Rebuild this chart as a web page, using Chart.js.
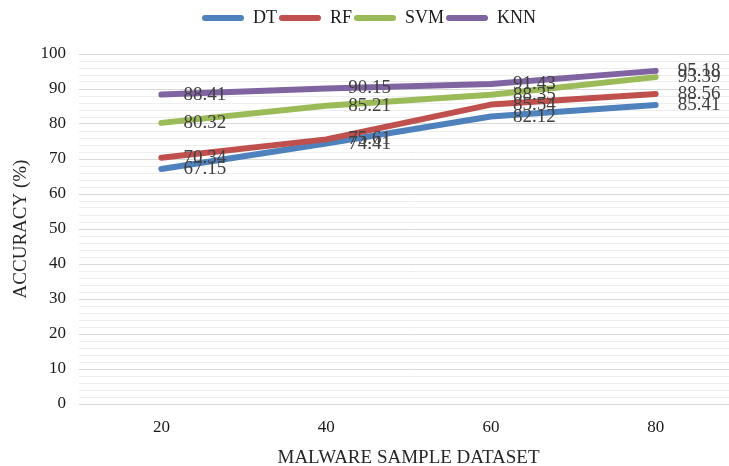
<!DOCTYPE html>
<html>
<head>
<meta charset="utf-8">
<title>Accuracy by malware sample dataset</title>
<script src="https://cdn.jsdelivr.net/npm/chart.js@4/dist/chart.umd.min.js"></script>
<style>
  html, body { margin: 0; padding: 0; background: #fff; overflow: hidden; }
  #wrap { width: 729px; height: 466px; overflow: hidden; position: relative; }
  #c { position: absolute; left: 0; top: 0; }
</style>
</head>
<body>
<div id="wrap"><canvas id="c" width="738" height="466"></canvas></div>
<script>
// Dataset sizes on the x axis
const categories = ['20', '40', '60', '80'];

// Accuracy (%) per classifier
const dtValues  = [67.15, 74.41, 82.12, 85.41];
const rfValues  = [70.34, 75.61, 85.54, 88.56];
const svmValues = [80.32, 85.21, 88.35, 93.39];
const knnValues = [88.41, 90.15, 91.43, 95.18];

// Value axis: labelled every 10, light minor grid every 2
const yMin = 0;
const yMax = 100;
const yMinorStep = 2;
const yLabelStep = 10;

const SERIF = '"Liberation Serif", "Times New Roman", serif';

// Draws each point's value just to the right of it
const valueLabels = {
  id: 'valueLabels',
  afterDatasetsDraw(chart) {
    const ctx = chart.ctx;
    ctx.save();
    ctx.font = '19px ' + SERIF;
    ctx.fillStyle = '#404040';
    ctx.textAlign = 'left';
    ctx.textBaseline = 'middle';
    chart.data.datasets.forEach((ds, i) => {
      const meta = chart.getDatasetMeta(i);
      meta.data.forEach((pt, j) => {
        ctx.fillText(ds.data[j].toFixed(2), pt.x + 22, pt.y);
      });
    });
    ctx.restore();
  }
};

// Keeps a fixed band for the legend above the plot
const legendBand = {
  id: 'legendBand',
  afterInit(chart) {
    const lg = chart.legend;
    if (!lg) return;
    const fit = lg.fit.bind(lg);
    lg.fit = function () { fit(); this.height = 47; };
  }
};

function series(label, data, color, order) {
  return {
    label, data, order,
    borderColor: color,
    backgroundColor: color,
    borderWidth: 6,
    borderCapStyle: 'round',
    borderJoinStyle: 'round',
    tension: 0,
    pointRadius: 0,
    pointHoverRadius: 0,
    fill: false
  };
}

new Chart(document.getElementById('c'), {
  type: 'line',
  data: {
    labels: categories,
    datasets: [
      series('DT',  dtValues,  '#4F81BD', 4),
      series('RF',  rfValues,  '#C0504D', 3),
      series('SVM', svmValues, '#9BBB59', 2),
      series('KNN', knnValues, '#8064A2', 1)
    ]
  },
  options: {
    responsive: false,
    animation: false,
    layout: { padding: { top: 7, left: 0, right: 0, bottom: 0 } },
    plugins: {
      tooltip: { enabled: false },
      legend: {
        position: 'top',
        labels: {
          font: { family: SERIF, size: 18 },
          color: '#1a1a1a',
          boxWidth: 42,
          boxHeight: 6,
          useBorderRadius: true,
          borderRadius: 3,
          padding: 2,
          sort: (a, b) => a.datasetIndex - b.datasetIndex,
          generateLabels(chart) {
            return Chart.defaults.plugins.legend.labels.generateLabels(chart).map(item => {
              const ds = chart.data.datasets[item.datasetIndex];
              item.fillStyle = ds.borderColor;
              item.strokeStyle = 'rgba(0,0,0,0)';
              item.lineWidth = 0;
              return item;
            });
          }
        }
      }
    },
    scales: {
      x: {
        type: 'category',
        offset: true,
        grid: { display: false, drawTicks: false },
        border: { display: false },
        ticks: {
          font: { family: SERIF, size: 17 },
          color: '#1a1a1a',
          padding: 13,
          maxRotation: 0
        },
        title: {
          display: true,
          text: 'MALWARE SAMPLE DATASET',
          font: { family: SERIF, size: 19 },
          color: '#262626',
          padding: { top: 0, bottom: -3 }
        },
        afterFit(scale) { scale.height = 62; }
      },
      y: {
        min: yMin,
        max: yMax,
        grid: {
          drawTicks: false,
          lineWidth: 1,
          color: c => (Math.round(c.tick.value) % yLabelStep === 0 ? '#d9d9d9' : '#eeeeee')
        },
        border: { display: false },
        ticks: {
          stepSize: yMinorStep,
          autoSkip: false,
          font: { family: SERIF, size: 17 },
          color: '#1a1a1a',
          padding: 13,
          callback: v => (Math.round(v) % yLabelStep === 0 ? String(Math.round(v)) : '')
        },
        title: {
          display: true,
          text: 'ACCURACY (%)',
          font: { family: SERIF, size: 19 },
          color: '#262626',
          padding: { top: 10, bottom: 0 }
        },
        afterFit(scale) { scale.width = 79; }
      }
    }
  },
  plugins: [legendBand, valueLabels]
});
</script>
</body>
</html>
